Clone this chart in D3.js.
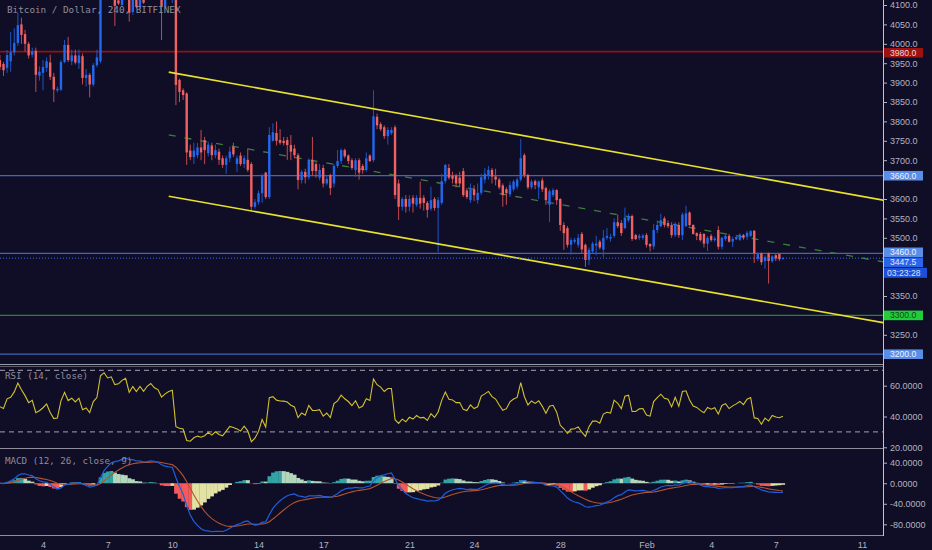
<!DOCTYPE html>
<html>
<head>
<meta charset="utf-8">
<script src="https://cdn.jsdelivr.net/npm/d3@7"></script>
<style>
  body { margin: 0; background: #100d27; }
  svg { display: block; }
</style>
</head>
<body>
<div id="chart"></div>
<script>
// 4h candles from 2 Jan 2019 00:00 UTC, one row per bar: [open, high, low, close]
const firstBar = "2019-01-02T00:00:00Z";
const barHours = 4;
const ohlcRows = [
  [3958,3971,3932,3940],[3948,3953,3917,3932],[3938,3984,3925,3971],[3955,4030,3928,3978],
  [3978,4040,3970,4002],[4002,4080,3995,4048],[4050,4067,4000,4023],[4025,4036,3980,4000],
  [4000,4005,3962,3970],[3972,3990,3965,3980],[3982,3990,3876,3920],[3918,3942,3905,3928],
  [3925,3958,3880,3940],[3938,3965,3928,3955],[3952,3972,3907,3915],[3915,3925,3850,3882],
  [3880,3890,3875,3884],[3882,3958,3878,3953],[3953,4010,3950,3997],[3997,4018,3953,3958],
  [3955,3985,3945,3970],[3970,3985,3947,3952],[3950,3985,3935,3970],[3968,3975,3895,3912],
  [3912,3935,3890,3920],[3920,3925,3862,3895],[3895,3950,3890,3945],[3945,3985,3940,3965],
  [3955,4135,3950,4120],[4120,4170,4115,4150],[4150,4160,4118,4125],[4125,4150,4115,4135],
  [4135,4140,4046,4098],[4112,4130,4100,4104],[4100,4145,4098,4130],[4130,4160,4118,4145],
  [4145,4150,4057,4080],[4082,4130,4075,4120],[4120,4135,4092,4095],[4095,4145,4090,4130],
  [4130,4140,4103,4106],[4125,4155,4118,4140],[4140,4175,4125,4160],[4160,4170,4130,4140],
  [4140,4150,4125,4132],[4132,4140,4010,4097],[4097,4125,4090,4115],[4115,4140,4113,4128],
  [4128,4150,4105,4135],[4135,4140,3842,3894],[3907,3910,3850,3876],[3880,3885,3855,3868],
  [3872,3875,3688,3720],[3725,3740,3700,3708],[3708,3745,3690,3725],[3713,3745,3705,3733],
  [3733,3778,3700,3720],[3752,3760,3690,3726],[3718,3748,3710,3740],[3738,3745,3700,3713],
  [3713,3740,3705,3726],[3722,3730,3688,3701],[3705,3712,3680,3688],[3688,3712,3665,3705],
  [3705,3735,3695,3722],[3735,3745,3708,3715],[3690,3712,3670,3705],[3712,3720,3685,3690],
  [3690,3712,3680,3705],[3701,3730,3670,3675],[3690,3695,3570,3580],[3580,3600,3575,3592],
  [3592,3622,3585,3615],[3615,3665,3590,3660],[3668,3670,3600,3605],[3605,3785,3600,3765],
  [3750,3795,3748,3772],[3770,3800,3738,3750],[3752,3780,3740,3745],[3750,3760,3738,3744],
  [3752,3760,3701,3739],[3739,3765,3700,3722],[3730,3740,3705,3713],[3713,3718,3625,3649],
  [3649,3675,3640,3670],[3670,3678,3640,3656],[3656,3705,3650,3701],[3701,3760,3660,3672],
  [3690,3695,3655,3672],[3655,3690,3648,3675],[3680,3688,3630,3640],[3640,3660,3635,3652],
  [3662,3665,3610,3628],[3640,3690,3630,3685],[3685,3726,3680,3698],[3698,3730,3690,3726],
  [3726,3730,3705,3710],[3712,3715,3690,3698],[3700,3705,3675,3680],[3675,3705,3657,3700],
  [3700,3705,3650,3668],[3685,3690,3665,3675],[3675,3720,3670,3705],[3712,3715,3695,3698],
  [3700,3880,3695,3813],[3812,3820,3780,3790],[3793,3798,3775,3780],[3785,3790,3755,3762],
  [3762,3785,3740,3778],[3770,3785,3765,3778],[3785,3790,3600,3610],[3640,3650,3546,3580],
  [3580,3605,3570,3600],[3600,3610,3565,3580],[3580,3610,3568,3600],[3603,3610,3565,3588],
  [3585,3610,3580,3603],[3603,3645,3575,3588],[3603,3610,3570,3590],[3590,3595,3552,3572],
  [3575,3632,3570,3597],[3600,3605,3570,3577],[3577,3605,3463,3597],[3590,3665,3585,3646],
  [3646,3690,3640,3688],[3680,3690,3650,3655],[3660,3670,3640,3652],[3660,3665,3630,3640],
  [3655,3670,3630,3640],[3672,3680,3605,3610],[3622,3628,3600,3605],[3597,3640,3590,3625],
  [3625,3635,3595,3610],[3597,3640,3588,3616],[3616,3665,3610,3656],[3650,3680,3640,3665],
  [3660,3685,3650,3675],[3675,3680,3640,3658],[3658,3678,3635,3650],[3650,3655,3625,3630],
  [3635,3640,3580,3610],[3625,3630,3585,3615],[3612,3645,3605,3636],[3625,3650,3620,3645],
  [3632,3655,3625,3650],[3650,3755,3645,3705],[3713,3718,3655,3662],[3662,3665,3625,3630],
  [3630,3650,3625,3645],[3646,3650,3625,3636],[3630,3648,3600,3645],[3648,3655,3618,3625],
  [3628,3632,3585,3597],[3585,3625,3541,3620],[3610,3628,3605,3623],[3623,3625,3585,3597],
  [3600,3602,3518,3533],[3533,3540,3469,3512],[3525,3530,3475,3482],[3482,3500,3456,3494],
  [3490,3500,3485,3495],[3482,3510,3475,3500],[3510,3515,3460,3470],[3482,3485,3425,3443],
  [3443,3475,3430,3469],[3465,3490,3460,3485],[3480,3505,3455,3485],[3490,3495,3470,3475],
  [3470,3520,3450,3500],[3500,3525,3495,3505],[3498,3510,3490,3502],[3505,3550,3500,3540],
  [3540,3560,3525,3530],[3538,3545,3505,3512],[3525,3578,3522,3552],[3545,3562,3540,3556],
  [3556,3560,3492,3497],[3507,3510,3494,3497],[3500,3510,3494,3505],[3500,3510,3495,3506],
  [3507,3512,3475,3482],[3484,3486,3465,3478],[3478,3535,3470,3520],[3520,3545,3512,3533],
  [3530,3562,3527,3545],[3550,3555,3527,3533],[3538,3545,3525,3530],[3533,3540,3500,3507],
  [3507,3540,3502,3536],[3533,3540,3500,3507],[3507,3565,3494,3560],[3530,3583,3528,3563],
  [3565,3568,3530,3533],[3533,3535,3508,3510],[3512,3514,3494,3505],[3510,3515,3490,3494],
  [3510,3512,3475,3485],[3485,3505,3466,3500],[3505,3510,3490,3494],[3494,3503,3490,3498],
  [3520,3530,3470,3477],[3477,3502,3470,3500],[3497,3508,3492,3505],[3505,3510,3488,3490],
  [3490,3503,3476,3497],[3496,3505,3494,3502],[3495,3512,3492,3508],[3507,3510,3495,3500],
  [3503,3518,3495,3513],[3505,3520,3502,3517],[3518,3520,3435,3460],[3446,3462,3440,3458],
  [3460,3462,3430,3437],[3440,3455,3420,3450],[3460,3462,3382,3440],[3440,3455,3435,3452],
  [3455,3458,3440,3447],[3458,3460,3440,3445],[3446,3450,3444,3447.5]
];

// time axis
const tickDates = ["2019-01-04","2019-01-07","2019-01-10","2019-01-14","2019-01-17","2019-01-21",
  "2019-01-24","2019-01-28","2019-02-01","2019-02-04","2019-02-07","2019-02-11"];
const tickLabels = ["4","7","10","14","17","21","24","28","Feb","4","7","11"];

// value axes (price ticks hidden behind the level tags are left out)
const priceTicks = [3250,3350,3500,3550,3600,3700,3750,3800,3850,3900,3950,4000,4050,4100];
const rsiTicks = [20, 40, 60];
const rsiBands = [30, 70];
const macdTicks = [-80, -40, 0, 40];

// drawn horizontal levels and channel lines
const levelPrices = [3980, 3660, 3460, 3300, 3200];
const lastPrice = 3447.5;
const countdownText = "03:23:28";
const upperChannel = [["2019-01-09T20:00:00Z", 3927], ["2019-02-12T00:00:00Z", 3597]];
const lowerChannel = [["2019-01-09T20:00:00Z", 3607], ["2019-02-12T00:00:00Z", 3281]];
const middleLine = [["2019-01-09T20:00:00Z", 3765], ["2019-02-12T00:00:00Z", 3438]];

const W = 932, H = 550;
const plotRight = 883;
const bg = "#100d27";
const upColor = "#2268ee", downColor = "#f06262";
const upWick = "#1d55c4", downWick = "#c44a4e";
const axisText = "#b4b4be";

const svg = d3.select("#chart").append("svg")
    .attr("width", W)
    .attr("height", H);

svg.append("rect").attr("width", W).attr("height", H).attr("fill", bg);

const t0 = new Date(firstBar).getTime();
const bars = ohlcRows.map((r, i) => ({
    date: new Date(t0 + i * barHours * 3600e3),
    open: r[0], high: r[1], low: r[2], close: r[3]
}));

const x = d3.scaleUtc()
    .domain([new Date("2019-01-02T00:00:00Z"), new Date("2019-02-11T00:00:00Z")])
    .range([-0.1, 862]);
const y = d3.scaleLinear().domain([3200, 4100]).range([354.2, 5]);
const yRsi = d3.scaleLinear().domain([20, 60]).range([447.3, 385.7]);
const yMacd = d3.scaleLinear().domain([-80, 40]).range([524.3, 462.7]);
const step = x(new Date(t0 + barHours * 3600e3)) - x(new Date(t0));

// clip regions for the three panes
const defs = svg.append("defs");
[["clipPrice", 0, 364], ["clipRsi", 367, 448], ["clipMacd", 450, 535]].forEach(([id, y0, y1]) => {
    defs.append("clipPath").attr("id", id)
        .append("rect").attr("x", 0).attr("y", y0).attr("width", plotRight).attr("height", y1 - y0);
});

// ---------- price pane ----------
const price = svg.append("g").attr("clip-path", "url(#clipPrice)");

// dashed middle line (behind candles)
const lineGen = d3.line().x(d => x(new Date(d[0]))).y(d => y(d[1]));
price.append("path")
    .datum(middleLine)
    .attr("d", lineGen)
    .attr("fill", "none")
    .attr("stroke", "#3e7d3a")
    .attr("stroke-width", 1.3)
    .attr("stroke-dasharray", "7,9");

const levelColors = { 3980: "#8e1414", 3660: "#3f67b8", 3460: "#3f67b8", 3300: "#1f8a2a", 3200: "#3f67b8" };
price.selectAll(".level")
    .data(levelPrices)
    .enter().append("line")
    .attr("class", "level")
    .attr("x1", 0).attr("x2", plotRight)
    .attr("y1", d => y(d)).attr("y2", d => y(d))
    .attr("stroke", d => levelColors[d])
    .attr("stroke-width", d => d === 3980 ? 1.8 : 1.2);

// candles
const candle = price.selectAll(".candle")
    .data(bars)
    .enter().append("g")
    .attr("class", "candle");

candle.append("line")
    .attr("x1", d => x(d.date)).attr("x2", d => x(d.date))
    .attr("y1", d => y(d.high)).attr("y2", d => y(d.low))
    .attr("stroke", d => d.close >= d.open ? upWick : downWick)
    .attr("stroke-width", 1);

candle.append("rect")
    .attr("x", d => x(d.date) - 1.2)
    .attr("width", 2.4)
    .attr("y", d => y(Math.max(d.open, d.close)))
    .attr("height", d => Math.max(1, Math.abs(y(d.open) - y(d.close))))
    .attr("fill", d => d.close >= d.open ? upColor : downColor);

// channel
[upperChannel, lowerChannel].forEach(c => {
    price.append("path")
        .datum(c)
        .attr("d", lineGen)
        .attr("fill", "none")
        .attr("stroke", "#e8e22c")
        .attr("stroke-width", 1.6);
});

// last price dotted line
price.append("line")
    .attr("x1", 0).attr("x2", plotRight)
    .attr("y1", y(lastPrice)).attr("y2", y(lastPrice))
    .attr("stroke", "#2f6ff0")
    .attr("stroke-width", 1)
    .attr("stroke-dasharray", "1,2");

svg.append("text")
    .attr("x", 7).attr("y", 13)
    .attr("font-family", "DejaVu Sans Mono")
    .attr("font-size", 9.3)
    .attr("fill", "#8e8e9a")
    .text("Bitcoin / Dollar, 240, BITFINEX");

// ---------- indicators ----------
const closes = bars.map(d => d.close);
const n = closes.length;

// RSI 14 (Wilder)
let ag = 0, al = 0;
for (let i = 1; i <= 14; i++) {
    const d = closes[i] - closes[i - 1];
    ag += Math.max(d, 0); al += Math.max(-d, 0);
}
ag /= 14; al /= 14;
const rsi = [100 - 100 / (1 + ag / al)];
for (let i = 1; i < n; i++) {
    const d = closes[i] - closes[i - 1];
    ag = (ag * 13 + Math.max(d, 0)) / 14;
    al = (al * 13 + Math.max(-d, 0)) / 14;
    rsi.push(al === 0 ? 100 : 100 - 100 / (1 + ag / al));
}

// MACD 12, 26, 9
function ema(vals, len) {
    const k = 2 / (len + 1);
    const out = [];
    vals.forEach((v, i) => out.push(i ? out[i - 1] + k * (v - out[i - 1]) : v));
    return out;
}
const e12 = ema(closes, 12), e26 = ema(closes, 26);
const macd = e12.map((v, i) => v - e26[i]);
const signal = ema(macd, 9);
const hist = macd.map((v, i) => v - signal[i]);

// RSI pane
const rsiG = svg.append("g").attr("clip-path", "url(#clipRsi)");
rsiG.selectAll(".band")
    .data(rsiBands)
    .enter().append("line")
    .attr("x1", 0).attr("x2", plotRight)
    .attr("y1", d => yRsi(d)).attr("y2", d => yRsi(d))
    .attr("stroke", "#a4a4b0")
    .attr("stroke-width", 1)
    .attr("stroke-dasharray", "5,4");

rsiG.append("path")
    .datum(rsi)
    .attr("d", d3.line().x((d, i) => x(bars[i].date)).y(d => yRsi(d)))
    .attr("fill", "none")
    .attr("stroke", "#d2c22c")
    .attr("stroke-width", 1.1);

svg.append("text")
    .attr("x", 5).attr("y", 379)
    .attr("font-family", "DejaVu Sans Mono")
    .attr("font-size", 9.2)
    .attr("fill", "#8e8e9a")
    .text("RSI (14, close)");

// MACD pane
const macdG = svg.append("g").attr("clip-path", "url(#clipMacd)");
macdG.selectAll(".hist")
    .data(hist)
    .enter().append("rect")
    .attr("x", (d, i) => x(bars[i].date) - step / 2)
    .attr("width", step + 0.3)
    .attr("y", d => Math.min(yMacd(d), yMacd(0)))
    .attr("height", d => Math.abs(yMacd(d) - yMacd(0)))
    .attr("fill", (d, i) => {
        const prev = i ? hist[i - 1] : d;
        if (d >= 0) return d >= prev ? "#33a3a6" : "#b2d7bd";
        return d <= prev ? "#f35b5b" : "#e2e2a4";
    });

const macdLine = d3.line().x((d, i) => x(bars[i].date)).y(d => yMacd(d));
macdG.append("path").datum(signal).attr("d", macdLine)
    .attr("fill", "none").attr("stroke", "#b4532c").attr("stroke-width", 1.1);
macdG.append("path").datum(macd).attr("d", macdLine)
    .attr("fill", "none").attr("stroke", "#1f5fdc").attr("stroke-width", 1.2);

svg.append("text")
    .attr("x", 5).attr("y", 464)
    .attr("font-family", "DejaVu Sans Mono")
    .attr("font-size", 9.2)
    .attr("fill", "#8e8e9a")
    .text("MACD (12, 26, close, 9)");

// ---------- frame ----------
svg.append("line").attr("x1", 0).attr("x2", plotRight).attr("y1", 364.5).attr("y2", 364.5)
    .attr("stroke", "#9a9aa6").attr("stroke-width", 1);
svg.append("line").attr("x1", 0).attr("x2", plotRight).attr("y1", 366.5).attr("y2", 366.5)
    .attr("stroke", "#5c5c6c").attr("stroke-width", 1);
svg.append("line").attr("x1", 0).attr("x2", plotRight).attr("y1", 448.5).attr("y2", 448.5)
    .attr("stroke", "#8e8e9a").attr("stroke-width", 1);
svg.append("line").attr("x1", 0).attr("x2", plotRight).attr("y1", 535.5).attr("y2", 535.5)
    .attr("stroke", "#8e8e9a").attr("stroke-width", 1);
svg.append("line").attr("x1", plotRight + 0.5).attr("x2", plotRight + 0.5).attr("y1", 0).attr("y2", 536)
    .attr("stroke", "#c4c4cc").attr("stroke-width", 1);

// ---------- axes ----------
function styleAxis(g) {
    g.select(".domain").remove();
    g.selectAll("text")
        .attr("fill", axisText)
        .attr("font-family", "Liberation Sans, Arial, sans-serif")
        .attr("font-size", 9);
    g.selectAll(".tick line").attr("stroke", "#b4b4be");
}

svg.append("g")
    .attr("transform", `translate(${plotRight},0)`)
    .call(d3.axisRight(y).tickValues(priceTicks).tickFormat(d => d.toFixed(1)).tickSize(4).tickPadding(3))
    .call(styleAxis);

svg.append("g")
    .attr("transform", `translate(${plotRight},0)`)
    .call(d3.axisRight(yRsi).tickValues(rsiTicks).tickFormat(d => d.toFixed(4)).tickSize(4).tickPadding(3))
    .call(styleAxis);

svg.append("g")
    .attr("transform", `translate(${plotRight},0)`)
    .call(d3.axisRight(yMacd).tickValues(macdTicks).tickFormat(d => d.toFixed(4)).tickSize(4).tickPadding(3))
    .call(styleAxis);

svg.append("g")
    .attr("transform", "translate(0,537)")
    .call(d3.axisBottom(x)
        .tickValues(tickDates.map(d => new Date(d + "T00:00:00Z")))
        .tickFormat((d, i) => tickLabels[i])
        .tickSize(0).tickPadding(5))
    .call(styleAxis);

// ---------- price labels on the axis ----------
const tags = [
    { price: 3980, fill: "#9c1212", text: "#f6d2d2", yc: y(3980) + 1.2 },
    { price: 3660, fill: "#5a8de6", text: "#eef3ff", yc: y(3660) },
    { price: 3460, fill: "#5a8de6", text: "#eef3ff", yc: y(3460) - 1 },
    { price: lastPrice, fill: "#2b64e8", text: "#e2eaff", yc: y(3460) + 9 },
    { price: 3300, fill: "#22cc3a", text: "#0b4d16", yc: y(3300) },
    { price: 3200, fill: "#5a8de6", text: "#eef3ff", yc: y(3200) }
];
const tagG = svg.append("g");
tags.forEach(t => {
    tagG.append("rect")
        .attr("x", plotRight + 1).attr("y", t.yc - 4.8)
        .attr("width", 39).attr("height", 9.6)
        .attr("fill", t.fill);
    tagG.append("text")
        .attr("x", 890).attr("y", t.yc + 3)
        .attr("font-family", "Liberation Sans, Arial, sans-serif")
        .attr("font-size", 8.6)
        .attr("fill", t.text)
        .text(t.price.toFixed(1));
});
tagG.append("rect")
    .attr("x", plotRight + 1).attr("y", y(3460) + 14.5)
    .attr("width", 43).attr("height", 10)
    .attr("fill", "#1c50d8");
tagG.append("text")
    .attr("x", 887).attr("y", y(3460) + 22.6)
    .attr("font-family", "Liberation Sans, Arial, sans-serif")
    .attr("font-size", 8.6)
    .attr("fill", "#d8e2ff")
    .text(countdownText);
</script>
</body>
</html>
